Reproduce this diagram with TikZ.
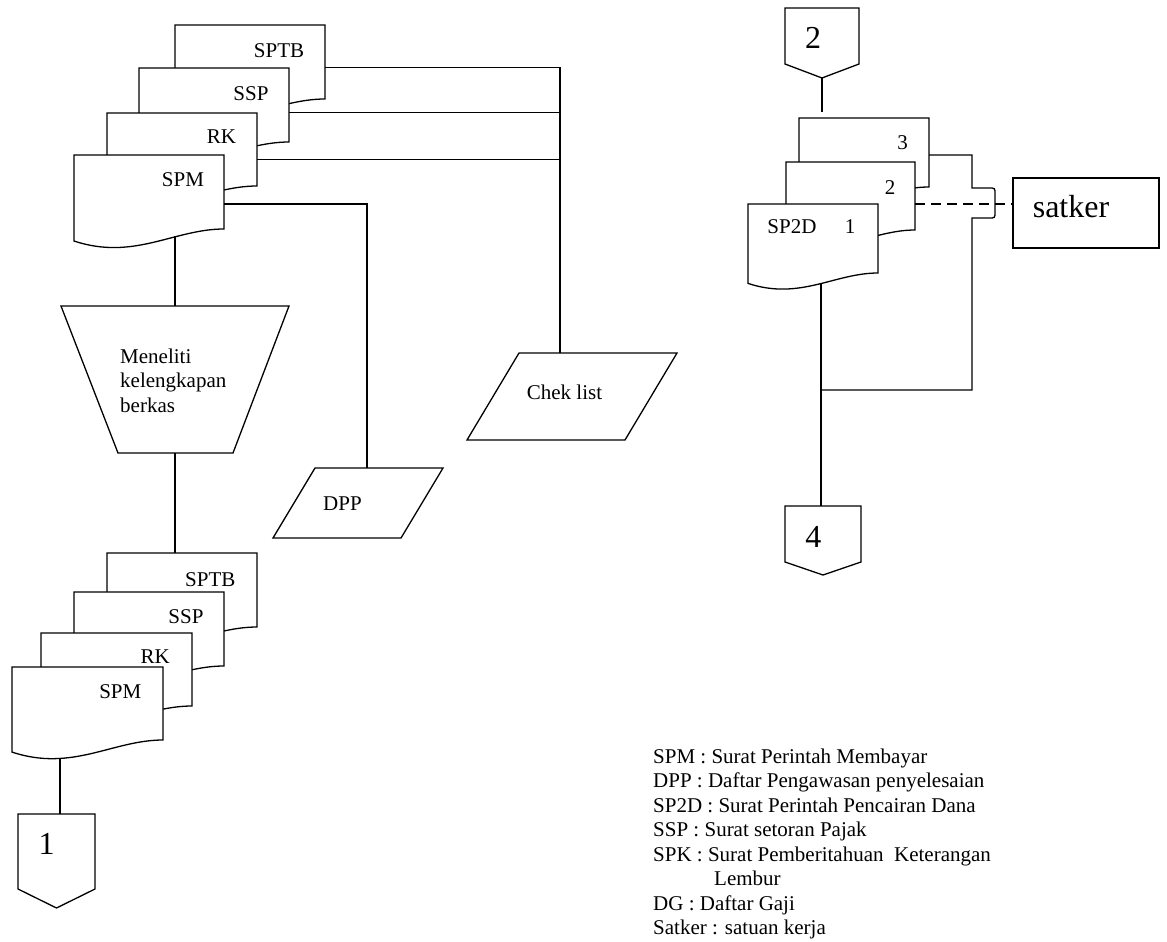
\documentclass[tikz,border=0pt]{standalone}
\usepackage{fontspec}
\setmainfont{Liberation Serif}
\usetikzlibrary{calc}

\newcommand\smallsize{\fontsize{21}{24.5}\selectfont}
\newcommand\bigsize{\fontsize{32}{38}\selectfont}

% document symbol: name, left, top, width, height at the right edge
\newcommand\docsymbol[5]{%
  \filldraw[flow] (#2,#3) -- ({#2+#4},#3) -- ({#2+#4},{#3+#5})
    .. controls ({#2+#4*2/3},{#3+#5}) and ({#2+#4*0.4},{#3+#5+#4*0.213}) ..
    (#2,{#3+#5+#4*0.08}) -- cycle;
  \node[inner sep=0pt, minimum width=#4, minimum height=#5] (#1) at ({#2+#4/2},{#3+#5/2}) {};%
}

% off-page connector: name, left, top, width, side height, tip height
\newcommand\offpage[6]{%
  \filldraw[flow] (#2,#3) -- ({#2+#4},#3) -- ({#2+#4},{#3+#5})
    -- ({#2+#4/2},{#3+#5+#6}) -- (#2,{#3+#5}) -- cycle;
  \coordinate (#1-top) at ({#2+#4/2},#3);
  \coordinate (#1-tip) at ({#2+#4/2},{#3+#5+#6});%
}

\begin{document}
\begin{tikzpicture}[x=1pt, y=-1pt,
  flow/.style={draw=black, fill=white, line width=1.3pt, line join=miter},
  wire/.style={draw=black, line width=1.3pt},
  dashwire/.style={draw=black, line width=2pt, dash pattern=on 10pt off 6pt},
  lbl/.style={font=\smallsize, inner sep=0pt},
  biglbl/.style={font=\bigsize, inner sep=0pt},
  legend/.style={font=\smallsize, inner sep=0pt, anchor=base west}]

\useasboundingbox (0,0) rectangle (1167,942);
\fill[white] (0,0) rectangle (1167,942);

% ---------- incoming documents ----------
\docsymbol{sptbA}{175}{25}{150}{74}
\docsymbol{sspA}{139}{68}{150}{74}
\docsymbol{rkA}{107}{113}{150}{73}
\docsymbol{spmA}{74}{155}{150}{74}
\node[lbl] (sptbAt) at (279,50.3) {SPTB};
\node[lbl] (sspAt) at (251,93.3) {SSP};
\node[lbl] (rkAt) at (221.5,137) {RK};
\node[lbl] (spmAt) at (183,180) {SPM};
\coordinate (spmA-out) at (175,236);

% ---------- manual check ----------
\filldraw[flow] (61,306) -- (289,306) -- (233,453) -- (118,453) -- cycle;
\coordinate (menel-top) at (175,306);
\coordinate (menel-bot) at (175,453);
\node[lbl, align=left, anchor=north west] (menel) at (120,348.4)
  {Meneliti\\kelengkapan\\berkas};

% ---------- DPP and check list ----------
\filldraw[flow] (315,468) -- (443,468) -- (401,538) -- (273,538) -- cycle;
\coordinate (dpp-top) at (367,468);
\node[lbl] (dpp) at (342.5,504) {DPP};

\filldraw[flow] (519,353) -- (677,353) -- (625,440) -- (467,440) -- cycle;
\coordinate (chek-top) at (560,353);
\node[lbl] (chek) at (564.5,392) {Chek list};

% ---------- returned documents ----------
\docsymbol{sptbB}{107}{553}{150}{74}
\docsymbol{sspB}{74}{592}{150}{74}
\docsymbol{rkB}{41}{633}{151}{73}
\docsymbol{spmB}{12}{667}{151}{73}
\node[lbl] (sptbBt) at (210.3,579.7) {SPTB};
\node[lbl] (sspBt) at (186,616.7) {SSP};
\node[lbl] (rkBt) at (155.3,656.7) {RK};
\node[lbl] (spmBt) at (120.3,692) {SPM};
\coordinate (spmB-out) at (60,758);

\offpage{c1}{18}{814}{77}{75}{19}
\node[biglbl] (c1t) at (46.7,844) {1};

% ---------- left connectors ----------
\draw[wire] (sptbA.east |- sspA.north) -| (chek-top);
\draw[wire] (sspA.east |- rkA.north) -- (chek-top |- rkA.north);
\draw[wire] ($(rkA.east |- spmA.north)+(0,5)$) -- ($(chek-top |- spmA.north)+(0,5)$);
\draw[wire] ($(spmA.east)+(0,12)$) -| (dpp-top);
\draw[wire] (spmA-out) -- (menel-top);
\draw[wire] (menel-bot) -- (menel-bot |- sptbB.north);
\draw[wire] (spmB-out) -- (spmB-out |- c1-top);

% ---------- SP2D branch ----------
\offpage{c2}{785}{8}{74}{56}{14}
\node[biglbl] (c2t) at (813,38) {2};

\docsymbol{d3}{799}{118}{130}{69}
\docsymbol{d2}{786}{162}{129}{68}
\docsymbol{d1}{748}{204}{130}{69}
\node[lbl] (d3t) at (902.5,143) {3};
\node[lbl] (d2t) at (890,187.5) {2};
\node[lbl] (d1a) at (792,226.7) {SP2D};
\node[lbl] (d1b) at (850,226.7) {1};

\node[draw=black, line width=1.3pt, fill=white, inner sep=0pt,
      minimum width=146, minimum height=70] (satker) at (1086,213) {};
\node[biglbl] (satkert) at (1071,207) {satker};

\offpage{c4}{785}{506}{76}{56}{13}
\node[biglbl] (c4t) at (813.3,536.5) {4};

\coordinate (c2-end) at (822,112);
\coordinate (d3-out) at (929,155);
\coordinate (d2-out) at (915,204);
\coordinate (d1-out) at (821,283);
\coordinate (hop-a) at (972,188);
\coordinate (hop-b) at (972,218);
\coordinate (join) at (821,390);

\draw[wire] (c2-tip) -- (c2-end);
\draw[wire] (d3-out) -| (hop-a) -- (989,188) .. controls (995,188) .. (995,194)
  -- (995,212) .. controls (995,218) .. (989,218) -- (hop-b) |- (join);
\draw[wire] (d1-out) -- (d1-out |- c4-top);
\draw[dashwire] (d2-out) -- (d2-out -| satker.west);

% ---------- legend ----------
\node[legend] (lg1) at (653,763) {SPM : Surat Perintah Membayar};
\node[legend] (lg2) at (653,787.5) {DPP : Daftar Pengawasan penyelesaian};
\node[legend] (lg3) at (653,812) {SP2D : Surat Perintah Pencairan Dana};
\node[legend] (lg4) at (653,836.5) {SSP : Surat setoran Pajak};
\node[legend] (lg5) at (653,861) {SPK : Surat Pemberitahuan\ \ Keterangan};
\node[legend] (lg6) at (714,885.5) {Lembur};
\node[legend] (lg7) at (653,910) {DG : Daftar Gaji};
\node[legend] (lg8) at (653,934.5) {Satker : satuan kerja};

\end{tikzpicture}
\end{document}
